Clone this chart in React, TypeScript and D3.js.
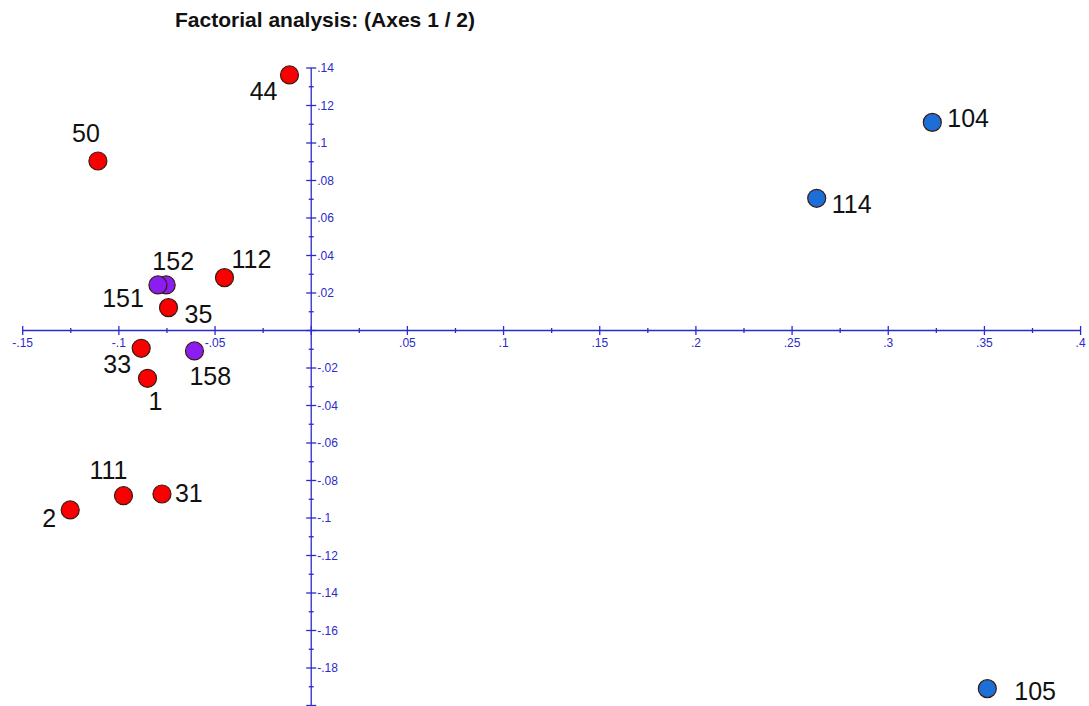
import React from "react";
import * as d3 from "d3";

// observations projected on factorial axes 1 and 2
const labels = ["44", "50", "104", "114", "112", "152", "151", "35", "33", "158", "1", "111", "31", "2", "105"];
const axis1 = [-0.0113, -0.1109, 0.3229, 0.2628, -0.0451, -0.0754, -0.0797, -0.0742, -0.0884, -0.0607, -0.0851, -0.0976, -0.0776, -0.1253, 0.3515];
const axis2 = [0.1363, 0.0904, 0.111, 0.0705, 0.0282, 0.0243, 0.0243, 0.0122, -0.0095, -0.0109, -0.0255, -0.0881, -0.0872, -0.0957, -0.191];
const groups = ["A", "A", "C", "C", "A", "B", "B", "A", "A", "B", "A", "A", "A", "A", "C"];

const xTicks = [-0.15, -0.1, -0.05, 0, 0.05, 0.1, 0.15, 0.2, 0.25, 0.3, 0.35, 0.4];
const yTicks = [0.14, 0.12, 0.1, 0.08, 0.06, 0.04, 0.02, 0, -0.02, -0.04, -0.06, -0.08, -0.1, -0.12, -0.14, -0.16, -0.18];

const colors: Record<string, string> = { A: "#fb0000", B: "#8a1ef0", C: "#1c6fd6" };

// label placement around each point: [anchor, dx, dy(baseline)]
const labelPos: Record<string, [string, number, number]> = {
  "44": ["end", -12, 25],
  "50": ["middle", -12, -19],
  "104": ["start", 15, 5],
  "114": ["start", 15, 15],
  "112": ["start", 7, -10],
  "152": ["middle", 7, -15],
  "151": ["end", -14, 22],
  "35": ["start", 16, 15],
  "33": ["end", -10, 25],
  "158": ["start", -5, 34],
  "1": ["middle", 8, 32],
  "111": ["middle", -15, -17],
  "31": ["start", 13, 8],
  "2": ["end", -14, 17],
  "105": ["start", 27, 11],
};

const W = 1089;
const H = 706;
const axisColor = "#2b2bcc";
const fmt = (v: number) => String(+v.toFixed(3)).replace("0.", ".");

export default function App() {
  const x = d3.scaleLinear().domain([-0.15, 0.4]).range([22.7, 1080.6]);
  const y = d3.scaleLinear().domain([-0.2, 0.14]).range([705.5, 68]);
  const x0 = x(0);
  const y0 = y(0);

  const xMinor = d3.range(-6, 17).map((i) => i * 0.025);
  const yMinor = d3.range(-20, 15).map((i) => i * 0.01);

  return (
    <svg
      width={W}
      height={H}
      style={{ position: "absolute", left: 0, top: 0, background: "#fff" }}
      fontFamily="'Liberation Sans', Arial, sans-serif"
    >
      <text x={325} y={27} textAnchor="middle" fontSize={21} fontWeight="bold" fill="#111">
        Factorial analysis: (Axes 1 / 2)
      </text>

      {/* x axis */}
      <line x1={x(-0.15)} x2={x(0.4)} y1={y0} y2={y0} stroke={axisColor} strokeWidth={1.3} />
      {xMinor.map((v, i) => (
        <line key={"xm" + i} x1={x(v)} x2={x(v)} y1={y0 - (i % 2 ? 2.5 : 4.5)} y2={y0 + (i % 2 ? 2.5 : 4.5)} stroke={axisColor} strokeWidth={1.3} />
      ))}
      {xTicks.filter((v) => v !== 0).map((v) => (
        <text key={"xl" + v} x={x(v)} y={y0 + 16} textAnchor="middle" fontSize={12} fill={axisColor}>
          {fmt(v)}
        </text>
      ))}

      {/* y axis */}
      <line x1={x0} x2={x0} y1={y(0.14)} y2={y(-0.2)} stroke={axisColor} strokeWidth={1.3} />
      {yMinor.map((v, i) => (
        <line key={"ym" + i} x1={x0 - (i % 2 ? 2.5 : 5)} x2={x0 + (i % 2 ? 2.5 : 5)} y1={y(v)} y2={y(v)} stroke={axisColor} strokeWidth={1.3} />
      ))}
      {yTicks.filter((v) => v !== 0).map((v) => (
        <text key={"yl" + v} x={x0 + 6} y={y(v)} dy="0.35em" fontSize={12} fill={axisColor}>
          {fmt(v)}
        </text>
      ))}

      {/* points */}
      {labels.map((l, i) => (
        <circle key={"c" + l} cx={x(axis1[i])} cy={y(axis2[i])} r={9} fill={colors[groups[i]]} stroke="#3a1a14" strokeWidth={1.2} />
      ))}
      {labels.map((l, i) => {
        const [anchor, dx, dy] = labelPos[l];
        return (
          <text key={"t" + l} x={x(axis1[i]) + dx} y={y(axis2[i]) + dy} textAnchor={anchor} fontSize={25} fill="#111">
            {l}
          </text>
        );
      })}
    </svg>
  );
}
